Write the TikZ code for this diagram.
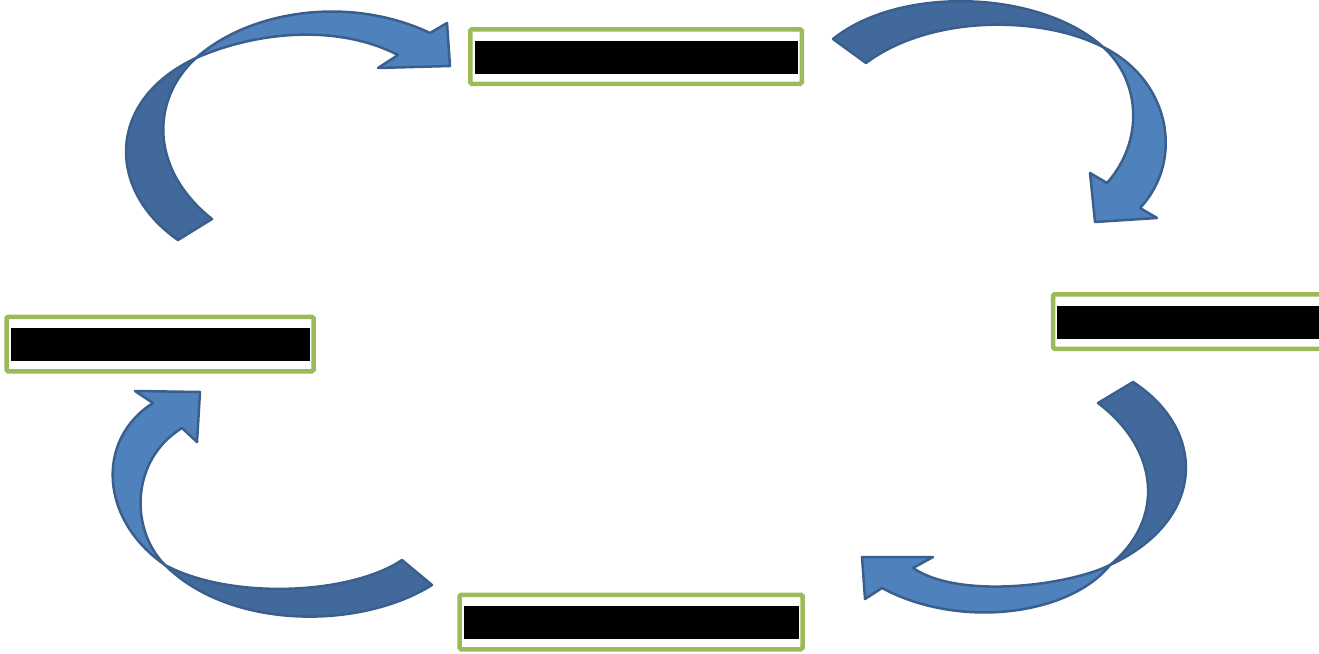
\documentclass[tikz,border=0pt]{standalone}
\definecolor{boxgreen}{HTML}{9BBB59}
\definecolor{arrowlightc}{HTML}{4F81BD}
\definecolor{arrowdarkc}{HTML}{41699B}
\definecolor{arrowlinec}{HTML}{3A5F8D}
\tikzset{
  greenbox/.style={draw=boxgreen, line width=4.5pt, fill=white, rounded corners=1.5pt, inner sep=0pt, minimum height=54.5pt},
  blackbar/.style={fill=black, inner sep=0pt, minimum height=33pt},
  darkband/.style={fill=arrowdarkc, draw=arrowlinec, line width=2.5pt, line join=round},
  lightband/.style={fill=arrowlightc, draw=arrowlinec, line width=2.5pt, line join=round}
}
\begin{document}
\begin{tikzpicture}[x=1pt,y=-1pt]
\useasboundingbox (0,0) rectangle (1319,653);
\clip (0,0) rectangle (1319,653);

% boxes
\node[greenbox, minimum width=331.5pt] (top) at (636,56.5) {};
\node[blackbar, minimum width=323pt] (topbar) at (636.5,57.5) {};
\node[greenbox, minimum width=277pt] (right) at (1191.5,321.5) {};
\node[blackbar, minimum width=268pt] (rightbar) at (1191,322.5) {};
\node[greenbox, minimum width=307pt] (left) at (160,344) {};
\node[blackbar, minimum width=299pt] (leftbar) at (160.5,344.5) {};
\node[greenbox, minimum width=343pt] (bottom) at (631,622) {};
\node[blackbar, minimum width=335pt] (bottombar) at (631.5,622.5) {};

% arrow 1 (top left)
\draw[darkband] (178,240) .. controls (106,190) and (106,100) .. (196,58)
  .. controls (150,100) and (150,170) .. (212,219) -- cycle;
\draw[lightband] (196,58) .. controls (250,10) and (350,-5) .. (430,33)
  -- (447,23) -- (450,66) -- (378,68) -- (398,55)
  .. controls (340,25) and (260,30) .. cycle;

% arrow 2 (top right)
\draw[darkband] (833,39) .. controls (900,-15) and (1040,-10) .. (1103,47)
  .. controls (1040,15) and (930,15) .. (866,63) -- cycle;
\draw[lightband] (1103,47) .. controls (1170,80) and (1185,160) .. (1140,208)
  -- (1157,218) -- (1095,222) -- (1090,173) -- (1107,183)
  .. controls (1145,140) and (1140,80) .. cycle;

% arrow 3 (bottom right)
\draw[darkband] (1133,382) .. controls (1207,430) and (1207,520) .. (1110,565)
  .. controls (1165,520) and (1160,450) .. (1098,403) -- cycle;
\draw[lightband] (1110,565) .. controls (1070,615) and (960,630) .. (882,588)
  -- (865,599) -- (862,557) -- (933,557) -- (913,568)
  .. controls (960,600) and (1070,585) .. cycle;

% arrow 4 (bottom left)
\draw[darkband] (432,585) .. controls (360,630) and (230,630) .. (165,565)
  .. controls (230,600) and (350,595) .. (402,560) -- cycle;
\draw[lightband] (165,565) .. controls (100,520) and (95,440) .. (153,403)
  -- (135,391) -- (200,392) -- (197,442) -- (182,428)
  .. controls (130,460) and (130,530) .. cycle;
\end{tikzpicture}
\end{document}
